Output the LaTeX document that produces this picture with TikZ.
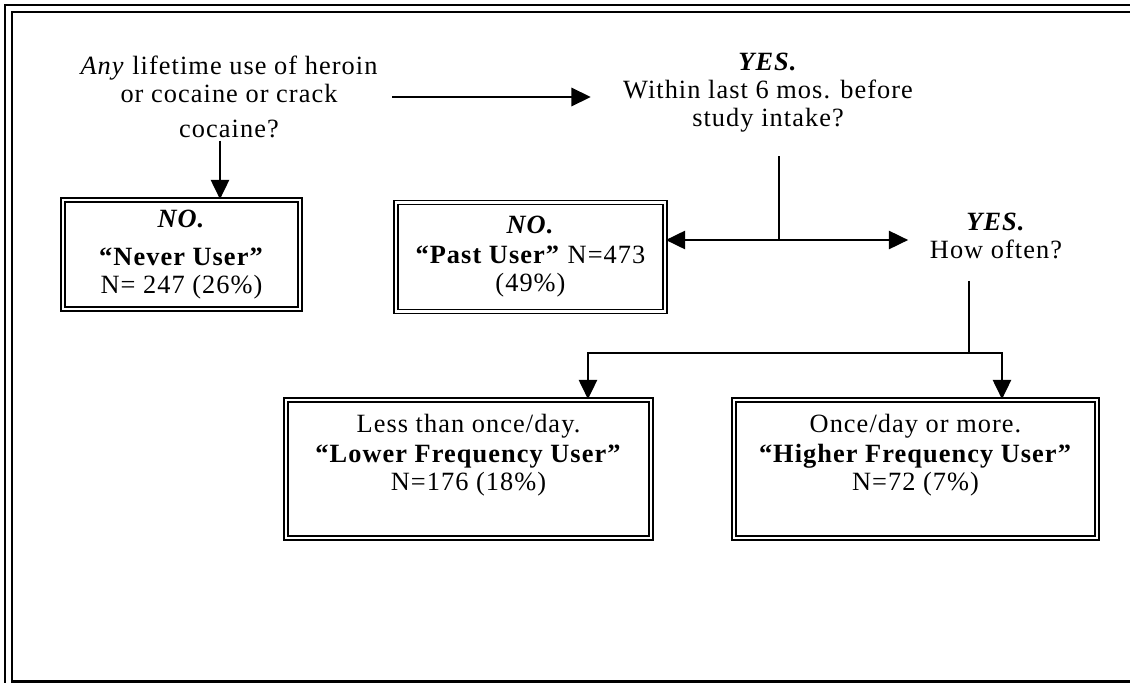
\documentclass[tikz,border=0pt]{standalone}
\usepackage{fontspec}
\setmainfont[LetterSpace=4]{Liberation Serif}
\usetikzlibrary{arrows.meta}
\tikzset{>={Triangle[length=11pt, width=10.5pt]}}

\begin{document}
\begin{tikzpicture}[x=.02cm, y=-.02cm, line width=.85pt,
    box/.style={draw, line width=1pt, double, double distance=1.3pt, inner sep=0pt, align=center},
    txt/.style={align=center, inner sep=0pt},
    font=\fontsize{15}{16}\selectfont]
    \useasboundingbox (0, 0) rectangle (1130, 683);
    % frame
    \draw[line width=1.2pt, double, double distance=2.6pt](8.5, 700)--(8.5, 8.5)--(1140, 8.5);
    \draw[line width=1.7pt](11, 681)--(1140, 681);
    % questions
    \node[txt](q1) at (229, 97){\textit{Any} lifetime use of heroin\\or cocaine or crack\\[4pt]cocaine?};
    \node[txt](q2) at (768, 93){\textbf{\textit{YES.}}\\Within last 6 mos. before\\study intake?};
    \node[txt](q3) at (996, 236){\textbf{\textit{YES.}}\\How often?};
    % boxes
    \node[box, minimum width=4.74cm, minimum height=2.18cm](never) at (181.5, 254.5){\textbf{\textit{NO.}}\\[6pt]\textbf{``Never User''}\\N= 247 (26\%)};
    \node[box, minimum width=5.38cm, minimum height=2.18cm](past) at (530.5, 257){\textbf{\textit{NO.}}\\[1pt]\textbf{``Past User''} N=473\\(49\%)};
    \node[box, minimum width=7.3cm, minimum height=2.76cm](lower) at (468.5, 469){};
    \node[box, minimum width=7.26cm, minimum height=2.76cm](higher) at (915.5, 469){};
    \node[txt](lowtxt) at (468.5, 455){Less than once/day.\\[1pt]\textbf{``Lower Frequency User''}\\N=176 (18\%)};
    \node[txt](hightxt) at (915.5, 455){Once/day or more.\\[1pt]\textbf{``Higher Frequency User''}\\N=72 (7\%)};
    % connectors
    \coordinate(nv) at ([xshift=.77cm]never.north);
    \coordinate(j1) at (779, 240);
    \coordinate(j2) at (969, 353);
    \draw[->, shorten <=1pt](q1.south -| nv)--(nv);
    \draw[->, shorten <=8pt, shorten >=18pt](q1.east)--(q2.west |- q1.east);
    \draw[shorten <=13pt](q2.south -| j1)--(j1);
    \draw[->](j1)--(past.east |- j1);
    \draw[->, shorten >=12pt](j1)--(q3.west |- j1);
    \draw[shorten <=12pt](q3.south -| j2)--(j2);
    \draw[->](j2)-|([xshift=2.39cm]lower.north);
    \draw[->](j2)-|([xshift=1.73cm]higher.north);
\end{tikzpicture}
\end{document}
